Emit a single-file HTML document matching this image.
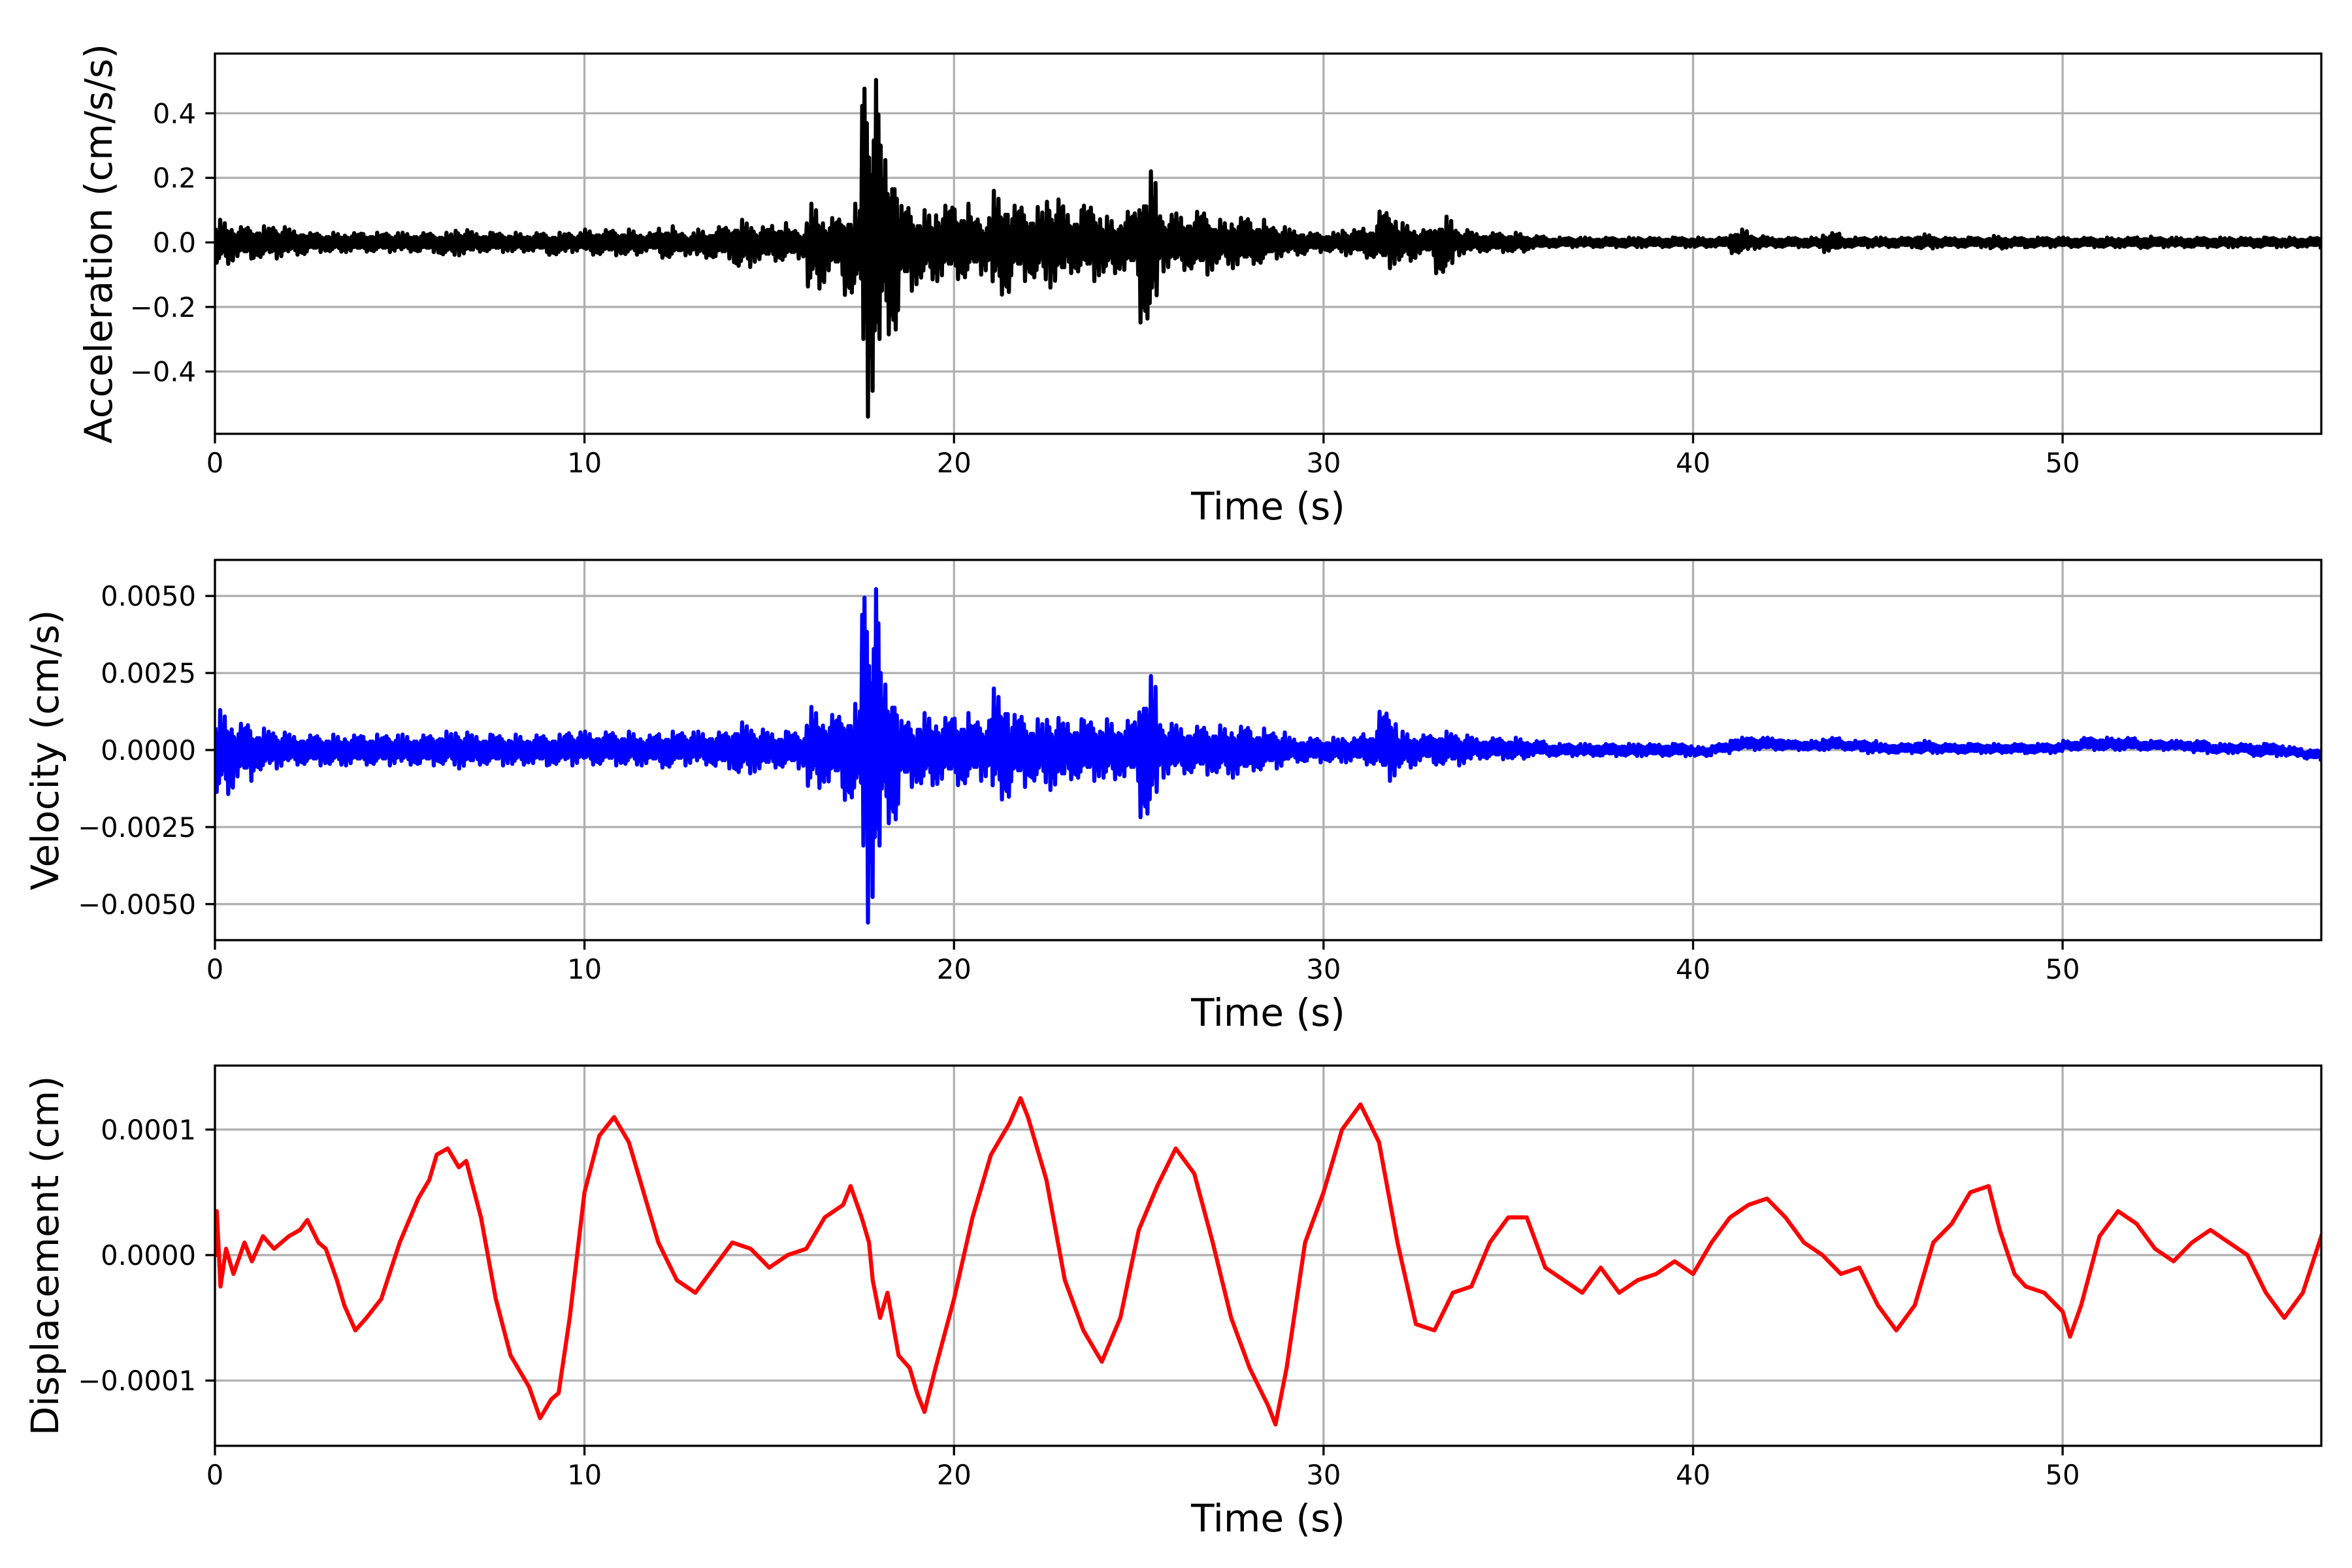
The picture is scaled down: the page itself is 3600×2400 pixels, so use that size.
<!DOCTYPE html>
<html><head><meta charset="utf-8"><style>
html,body{margin:0;padding:0;background:#fff;}
svg{display:block;font-family:"DejaVu Sans","Liberation Sans",sans-serif;}
</style></head><body>
<svg id="fig" width="3600" height="2400" viewBox="0 0 3600 2400" xmlns="http://www.w3.org/2000/svg">
<rect width="3600" height="2400" fill="#fff"/>
</svg>
<script>
// ---------- data ----------
const xTicks = [0,10,20,30,40,50];
const accTicks = [0.4,0.2,0.0,-0.2,-0.4];
const accTickLabels = ["0.4","0.2","0.0","\u22120.2","\u22120.4"];
const velTicks = [0.005,0.0025,0,-0.0025,-0.005];
const velTickLabels = ["0.0050","0.0025","0.0000","\u22120.0025","\u22120.0050"];
const dispTicks = [0.0001,0,-0.0001];
const dispTickLabels = ["0.0001","0.0000","\u22120.0001"];

// acceleration envelope (max/min per 0.5 s bin)
const accMax = [.07,.05,.05,.05,.04,.03,.03,.03,.03,.03,.03,.03,.03,.04,.03,.03,.03,.03,.03,.03,
.04,.04,.04,.03,.05,.03,.04,.05,.07,.05,.06,.04,.12,.08,.12,.53,.30,.12,.10,.12,
.12,.08,.16,.12,.11,.14,.10,.12,.08,.10,.22,.09,.09,.10,.07,.08,.07,.05,.04,.03,
.03,.04,.05,.10,.06,.04,.08,.04,.03,.03,.03,.02,.015,.015,.015,.015,.015,.015,.015,.015,
.015,.015,.04,.02,.015,.015,.015,.03,.015,.015,.015,.015,.025,.015,.015,.015,.02,.015,.015,.015,
.015,.015,.015,.015,.018,.015,.015,.015,.015,.015,.015,.015,.015,.015];
const accMin = [-.07,-.05,-.05,-.05,-.04,-.03,-.03,-.03,-.03,-.03,-.03,-.03,-.04,-.04,-.03,-.03,-.03,-.03,-.04,-.03,
-.04,-.04,-.04,-.03,-.05,-.04,-.05,-.05,-.08,-.06,-.06,-.05,-.15,-.10,-.17,-.54,-.30,-.15,-.12,-.12,
-.12,-.10,-.17,-.12,-.12,-.14,-.10,-.12,-.10,-.10,-.26,-.09,-.09,-.10,-.07,-.08,-.07,-.05,-.04,-.03,
-.03,-.04,-.05,-.08,-.06,-.04,-.10,-.04,-.03,-.03,-.03,-.02,-.015,-.015,-.015,-.015,-.015,-.015,-.015,-.015,
-.015,-.015,-.035,-.02,-.015,-.015,-.015,-.03,-.015,-.015,-.015,-.015,-.02,-.015,-.015,-.015,-.02,-.015,-.015,-.015,
-.015,-.015,-.015,-.015,-.018,-.015,-.015,-.015,-.015,-.015,-.015,-.015,-.015,-.015];

// velocity envelope (max/min per 0.5 s bin)
const velMax = [.0013,.0009,.0007,.0006,.0005,.0005,.0005,.0005,.0005,.0005,.0005,.0005,.0006,.0006,.0005,.0005,.0005,.0005,.0005,.0006,
.0006,.0006,.0006,.0005,.0006,.0006,.0006,.0006,.0009,.0007,.0006,.0006,.0014,.0012,.0015,.0055,.0025,.0010,.0012,.0011,
.0012,.0010,.0020,.0012,.0010,.0011,.0010,.0010,.0010,.0010,.0024,.0009,.0008,.0008,.0008,.0008,.0007,.0006,.0004,.0004,
.0004,.0004,.0006,.0013,.0006,.0005,.0006,.0005,.0004,.0004,.0004,.0003,.0002,.0002,.0002,.0002,.0002,.0002,.0002,.0002,
.0001,.0002,.0004,.0004,.0004,.0003,.0003,.0004,.0003,.0003,.0002,.0002,.0003,.0002,.0002,.0002,.0002,.0002,.0002,.0002,
.0003,.0004,.0004,.0004,.0003,.0003,.0003,.0003,.0002,.0002,.0002,.0002,.0001,.0000];
const velMin = [-.0015,-.0010,-.0007,-.0006,-.0005,-.0005,-.0005,-.0005,-.0005,-.0005,-.0005,-.0005,-.0005,-.0006,-.0005,-.0005,-.0005,-.0005,-.0005,-.0005,
-.0005,-.0005,-.0005,-.0005,-.0006,-.0005,-.0005,-.0006,-.0008,-.0007,-.0006,-.0006,-.0013,-.0012,-.0017,-.0056,-.0025,-.0012,-.0012,-.0011,
-.0012,-.0010,-.0017,-.0012,-.0011,-.0013,-.0010,-.0010,-.0010,-.0010,-.0023,-.0009,-.0008,-.0008,-.0008,-.0009,-.0007,-.0006,-.0004,-.0004,
-.0004,-.0004,-.0005,-.0010,-.0006,-.0004,-.0005,-.0005,-.0003,-.0003,-.0003,-.0002,-.0002,-.0002,-.0002,-.0002,-.0002,-.0002,-.0002,-.0002,
-.0002,-.0001,.0000,.0000,.0000,.0000,.0000,.0000,.0000,-.0001,-.0001,-.0001,-.0001,-.0001,-.0001,-.0001,-.0001,-.0001,-.0001,-.0001,
-.0000,.0000,.0000,.0000,.0000,.0000,.0000,-.0001,-.0001,-.0001,-.0002,-.0002,-.0002,-.0003];

// displacement samples (t in s, value in 1e-4 cm)
const dispT = [0,0.05,0.15,0.3,0.5,0.8,1.0,1.3,1.6,2.0,2.3,2.5,2.8,3.0,3.3,3.5,3.8,4.1,4.5,5.0,5.5,5.8,6.0,6.3,6.6,6.8,7.2,7.6,8.0,8.5,8.8,9.1,9.3,9.6,10.0,10.4,10.8,11.2,11.6,12.0,12.5,13.0,13.5,14.0,14.5,15.0,15.5,16.0,16.5,17.0,17.2,17.5,17.7,17.8,18.0,18.2,18.5,18.8,19.0,19.2,19.5,20.0,20.5,21.0,21.5,21.8,22.0,22.5,23.0,23.5,24.0,24.5,25.0,25.5,26.0,26.5,27.0,27.5,28.0,28.5,28.7,29.0,29.5,30.0,30.5,31.0,31.5,32.0,32.5,33.0,33.5,34.0,34.5,35.0,35.5,36.0,36.5,37.0,37.5,38.0,38.5,39.0,39.5,40.0,40.5,41.0,41.5,42.0,42.5,43.0,43.5,44.0,44.5,45.0,45.5,46.0,46.5,47.0,47.5,48.0,48.3,48.7,49.0,49.5,50.0,50.2,50.5,51.0,51.5,52.0,52.5,53.0,53.5,54.0,54.5,55.0,55.5,56.0,56.5,57.0];
const dispV = [0,0.35,-0.25,0.05,-0.15,0.1,-0.05,0.15,0.05,0.15,0.2,0.28,0.1,0.05,-0.2,-0.4,-0.6,-0.5,-0.35,0.1,0.45,0.6,0.8,0.85,0.7,0.75,0.3,-0.35,-0.8,-1.05,-1.3,-1.15,-1.1,-0.5,0.5,0.95,1.1,0.9,0.5,0.1,-0.2,-0.3,-0.1,0.1,0.05,-0.1,0.0,0.05,0.3,0.4,0.55,0.3,0.1,-0.2,-0.5,-0.3,-0.8,-0.9,-1.1,-1.25,-0.9,-0.35,0.3,0.8,1.05,1.25,1.1,0.6,-0.2,-0.6,-0.85,-0.5,0.2,0.55,0.85,0.65,0.1,-0.5,-0.9,-1.2,-1.35,-0.9,0.1,0.5,1.0,1.2,0.9,0.1,-0.55,-0.6,-0.3,-0.25,0.1,0.3,0.3,-0.1,-0.2,-0.3,-0.1,-0.3,-0.2,-0.15,-0.05,-0.15,0.1,0.3,0.4,0.45,0.3,0.1,0.0,-0.15,-0.1,-0.4,-0.6,-0.4,0.1,0.25,0.5,0.55,0.2,-0.15,-0.25,-0.3,-0.45,-0.65,-0.4,0.15,0.35,0.25,0.05,-0.05,0.1,0.2,0.1,0.0,-0.3,-0.5,-0.3,0.15];

// ---------- rendering ----------
const NS = "http://www.w3.org/2000/svg";
const svg = document.getElementById('fig');
const L = 329, R = 3553, XMAX = 57;
// drawing texture: fraction of bin envelope reached by successive swings (style only)
const swing = [0.55,0.9,0.45,0.7,1.0,0.5,0.65,0.4,0.85,0.6,0.5,0.95,0.45,0.75,0.55,0.8];
function xs(t){ return L + (t / XMAX) * (R - L); }
function mk(tag, attrs, parent){
  const e = document.createElementNS(NS, tag);
  for (const k in attrs) e.setAttribute(k, attrs[k]);
  (parent || svg).appendChild(e);
  return e;
}
function envelopePath(maxArr, minArr, ys){
  const pts = [];
  const bin = 0.5, sub = 16;
  for (let i = 0; i < maxArr.length; i++){
    const mid = (maxArr[i] + minArr[i]) / 2;
    for (let k = 0; k < sub; k++){
      const t = i * bin + (k + 0.5) * bin / sub;
      const f = swing[(k + i * 5) % swing.length];
      const ext = (k % 2 === 0) ? maxArr[i] : minArr[i];
      const v = mid + (ext - mid) * f;
      pts.push(xs(Math.min(t, XMAX)).toFixed(1) + ',' + ys(v).toFixed(1));
    }
  }
  return 'M' + pts.join('L');
}
function panel(cfg){
  const top = cfg.top, bot = cfg.top + 582;
  const ys = v => top + (cfg.ymax - v) / (cfg.ymax - cfg.ymin) * (bot - top);
  const g = mk('g', {});
  
  
  const clipId = 'clip-' + cfg.name;
  const cp = mk('clipPath', {id: clipId}, g);
  mk('rect', {x: L, y: top, width: R - L, height: bot - top}, cp);
  xTicks.forEach(t => {
    const gl = mk('line', {x1: xs(t), x2: xs(t), y1: top, y2: bot, stroke: '#b0b0b0', 'stroke-width': 3.3}, g);
    
    
  });
  cfg.ticks.forEach(v => {
    const gl = mk('line', {x1: L, x2: R, y1: ys(v), y2: ys(v), stroke: '#b0b0b0', 'stroke-width': 3.3}, g);
    
    
  });
  const p = mk('path', {d: cfg.path(ys), fill: 'none', stroke: cfg.color, 'stroke-width': 6.25, 'stroke-linejoin': 'round', 'stroke-linecap': 'square', 'clip-path': 'url(#' + clipId + ')'}, g);
  
  
  const fr = mk('rect', {x: L, y: top, width: R - L, height: bot - top, fill: 'none', stroke: '#000', 'stroke-width': 3.3}, g);
  
  
  xTicks.forEach(t => {
    const tk = mk('line', {x1: xs(t), x2: xs(t), y1: bot, y2: bot + 14.6, stroke: '#000', 'stroke-width': 3.3}, g);
    
    
    const tl = mk('text', {x: xs(t), y: bot + 59, 'font-size': 41.7, 'text-anchor': 'middle', fill: '#000'}, g);
    tl.textContent = String(t);
    
    
  });
  cfg.ticks.forEach((v, i) => {
    const tk = mk('line', {x1: L - 14.6, x2: L, y1: ys(v), y2: ys(v), stroke: '#000', 'stroke-width': 3.3}, g);
    
    
    const tl = mk('text', {x: L - 29, y: ys(v) + 15, 'font-size': 41.7, 'text-anchor': 'end', fill: '#000'}, g);
    tl.textContent = cfg.tickLabels[i];
    
    
  });
  const xl = mk('text', {x: (L + R) / 2, y: bot + 131, 'font-size': 58, 'text-anchor': 'middle', fill: '#000'}, g);
  xl.textContent = 'Time (s)';
  
  
  const cy = (top + bot) / 2;
  const yl = mk('text', {x: cfg.labelX, y: cy, 'font-size': 58, 'text-anchor': 'middle', 'dominant-baseline': 'central', fill: '#000', transform: 'rotate(-90 ' + cfg.labelX + ' ' + cy + ')'}, g);
  yl.textContent = cfg.label;
  
  
}

panel({name: 'acceleration', top: 82, ymin: -0.593, ymax: 0.585, ticks: accTicks, tickLabels: accTickLabels,
  color: '#000000', label: 'Acceleration (cm/s/s)', labelX: 151,
  path: ys => envelopePath(accMax, accMin, ys)});
panel({name: 'velocity', top: 857, ymin: -0.00617, ymax: 0.00617, ticks: velTicks, tickLabels: velTickLabels,
  color: '#0000ff', label: 'Velocity (cm/s)', labelX: 69,
  path: ys => envelopePath(velMax, velMin, ys)});
panel({name: 'displacement', top: 1631, ymin: -0.000152, ymax: 0.000151, ticks: dispTicks, tickLabels: dispTickLabels,
  color: '#ff0000', label: 'Displacement (cm)', labelX: 69,
  path: ys => 'M' + dispT.map((t, i) => xs(t).toFixed(1) + ',' + ys(dispV[i] * 1e-4).toFixed(1)).join('L')});
</script>
</body></html>
